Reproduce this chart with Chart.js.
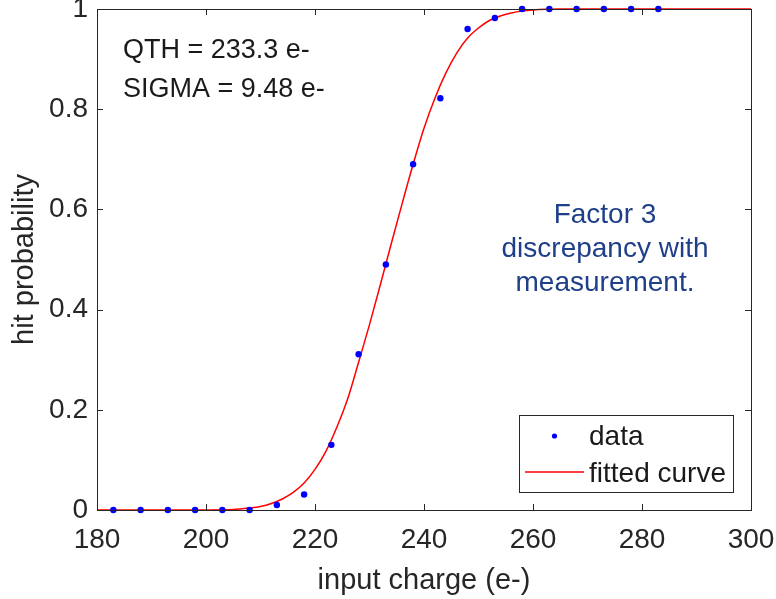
<!DOCTYPE html>
<html>
<head>
<meta charset="utf-8">
<script src="https://cdn.jsdelivr.net/npm/chart.js@4"></script>
<style>
html,body{margin:0;padding:0;background:#fff;}
#wrap{width:776px;height:599px;}
</style>
</head>
<body>
<div id="wrap"><canvas id="c" width="776" height="599"></canvas></div>
<script>
// ---- data ----
const dataX = [183,188,193,198,203,208,213,218,223,228,233,238,243,248,253,258,263,268,273,278,283];
const dataY = [0,0,0,0,0,0,0.01,0.031,0.13,0.311,0.49,0.69,0.822,0.96,0.982,1,1,1,1,1,1];

const curveX = [180,190,200,205,208,210,212,214,216,218,220,222,224,226,228,230,232,234,236,238,240,242,244,246,248,250,252,254,256,258,260,265,270,280,290,300];
const curveY = [0,0,0.0002,0.001,0.004,0.007,0.013,0.022,0.035,0.054,0.081,0.117,0.165,0.222,0.295,0.37,0.45,0.532,0.612,0.69,0.762,0.822,0.872,0.912,0.942,0.962,0.977,0.986,0.992,0.996,0.998,0.9998,1,1,1,1];

const xTicks = [180,200,220,240,260,280,300];
const yTicks = [0,0.2,0.4,0.6,0.8,1];

const seriesNames = ["data","fitted curve"];
const infoLines = ["QTH = 233.3 e-","SIGMA = 9.48 e-"];
const noteLines = ["Factor 3","discrepancy with","measurement."];
const xTitle = "input charge (e-)";
const yTitle = "hit probability";

const FONT = "'Liberation Sans', Arial, sans-serif";
const AXC = "#262626";

const toPts = (xs, ys) => xs.map((x,i)=>({x:x,y:ys[i]}));

const overlay = {
  id:'overlay',
  afterDatasetsDraw(chart){
    const ctx = chart.ctx, a = chart.chartArea;
    const xs = chart.scales.x, ys = chart.scales.y;
    ctx.save();
    // frame
    ctx.strokeStyle = AXC; ctx.lineWidth = 1;
    ctx.strokeRect(Math.round(a.left)+0.5, Math.round(a.top)+0.5, Math.round(a.right-a.left), Math.round(a.bottom-a.top));
    // inward ticks
    const tl = 6;
    ctx.beginPath();
    xTicks.forEach(v=>{
      const px = Math.round(xs.getPixelForValue(v))+0.5;
      ctx.moveTo(px,a.bottom); ctx.lineTo(px,a.bottom-tl);
      ctx.moveTo(px,a.top); ctx.lineTo(px,a.top+tl);
    });
    yTicks.forEach(v=>{
      const py = Math.round(ys.getPixelForValue(v))+0.5;
      ctx.moveTo(a.left,py); ctx.lineTo(a.left+tl,py);
      ctx.moveTo(a.right,py); ctx.lineTo(a.right-tl,py);
    });
    ctx.stroke();

    // info text
    ctx.fillStyle = "#1a1a1a";
    ctx.font = "27px " + FONT;
    ctx.textBaseline = "alphabetic"; ctx.textAlign = "left";
    ctx.fillText(infoLines[0], 123, 58);
    ctx.fillText(infoLines[1], 123, 97);

    // note text
    ctx.fillStyle = "#1f3f88";
    ctx.font = "28px " + FONT;
    ctx.textAlign = "center";
    const nx = 605, ny = [223,257,291];
    noteLines.forEach((t,i)=>ctx.fillText(t, nx, ny[i]));

    // legend
    const lx = 519, ly = 415, lw = 214, lh = 77;
    ctx.fillStyle = "#fff";
    ctx.fillRect(lx, ly, lw, lh);
    ctx.strokeStyle = AXC; ctx.lineWidth = 1;
    ctx.strokeRect(lx+0.5, ly+0.5, lw, lh);
    const ds0 = chart.data.datasets[0], ds1 = chart.data.datasets[1];
    ctx.fillStyle = ds0.pointBackgroundColor;
    ctx.beginPath(); ctx.arc(554.5, 436, 2.6, 0, Math.PI*2); ctx.fill();
    ctx.strokeStyle = ds1.borderColor; ctx.lineWidth = 1.3;
    ctx.beginPath(); ctx.moveTo(525, 472); ctx.lineTo(584, 472); ctx.stroke();
    ctx.fillStyle = "#1a1a1a";
    ctx.font = "28px " + FONT;
    ctx.textAlign = "left";
    ctx.fillText(seriesNames[0], 589, 445);
    ctx.fillText(seriesNames[1], 589, 482);
    ctx.restore();
  }
};

new Chart(document.getElementById('c'), {
  type: 'scatter',
  data: {
    datasets: [
      {
        label: seriesNames[0],
        data: toPts(dataX, dataY),
        showLine: false,
        pointRadius: 3.2,
        pointBorderWidth: 0,
        pointBackgroundColor: '#0000ff',
        pointBorderColor: '#0000ff',
        clip: false
      },
      {
        label: seriesNames[1],
        data: toPts(curveX, curveY),
        showLine: true,
        borderColor: '#ff0000',
        borderWidth: 1.5,
        pointRadius: 0,
        cubicInterpolationMode: 'monotone',
        fill: false,
        clip: false
      }
    ]
  },
  options: {
    responsive: false,
    animation: false,
    layout: { padding: { top: 9, right: 25, bottom: 0, left: 0 } },
    plugins: { legend: { display: false }, tooltip: { enabled: false } },
    scales: {
      x: {
        type: 'linear', min: 180, max: 300,
        afterBuildTicks: s => { s.ticks = xTicks.map(v=>({value:v})); },
        afterFit: s => { s.height = 89; s.paddingLeft = 0; s.paddingRight = 0; },
        ticks: { color: AXC, font: { family: FONT, size: 28 }, padding: 13, maxRotation: 0, autoSkip: false },
        grid: { display: false, drawTicks: false },
        border: { display: false },
        title: { display: true, text: xTitle, color: AXC, font: { family: FONT, size: 29 }, padding: { top: 0, bottom: 1 } }
      },
      y: {
        type: 'linear', min: 0, max: 1,
        afterBuildTicks: s => { s.ticks = yTicks.map(v=>({value:v})); },
        afterFit: s => { s.width = 97; s.paddingTop = 0; s.paddingBottom = 0; },
        ticks: { color: AXC, font: { family: FONT, size: 28 }, padding: 9, autoSkip: false,
                 callback: v => String(Math.round(v*10)/10) },
        grid: { display: false, drawTicks: false },
        border: { display: false },
        title: { display: true, text: yTitle, color: AXC, font: { family: FONT, size: 29 }, padding: { top: 8, bottom: 6 } }
      }
    }
  },
  plugins: [overlay]
});
</script>
</body>
</html>
